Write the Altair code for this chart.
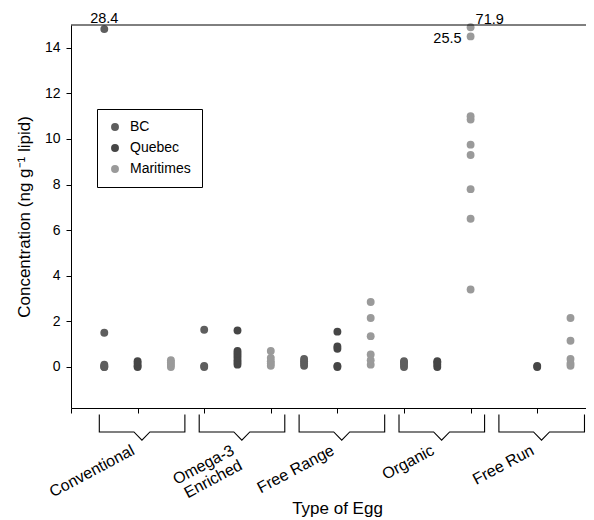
import altair as alt
import pandas as pd

# ---- data ----
groups = ["Conventional", "Omega-3\nEnriched", "Free Range", "Organic", "Free Run"]
regions = ["BC", "Quebec", "Maritimes"]
colors = ["#5e5e5e", "#464646", "#9a9a9a"]

bc_conventional = [0.0, 0.0, 0.05, 0.1, 1.5]
bc_omega = [0.0, 0.05, 1.63]
bc_free_range = [0.05, 0.15, 0.25, 0.35]
bc_organic = [0.0, 0.1, 0.2, 0.25]
bc_free_run = []

qc_conventional = [0.0, 0.05, 0.15, 0.25]
qc_omega = [0.1, 0.2, 0.3, 0.4, 0.5, 0.6, 0.7, 1.6]
qc_free_range = [0.0, 0.05, 0.8, 0.9, 1.55]
qc_organic = [0.0, 0.1, 0.2, 0.25]
qc_free_run = [0.0, 0.05]

mar_conventional = [0.0, 0.1, 0.2, 0.3]
mar_omega = [0.05, 0.15, 0.25, 0.4, 0.7]
mar_free_range = [0.1, 0.3, 0.55, 1.35, 2.15, 2.85]
mar_organic = [3.4, 6.5, 7.8, 9.3, 9.75, 10.85, 11.0]
mar_free_run = [0.05, 0.15, 0.35, 1.15, 2.15]

# off-scale values: drawn at the top of the axis, labelled with true value
off_group = ["Conventional", "Organic", "Organic"]
off_region = ["BC", "Maritimes", "Maritimes"]
off_drawn_at = [14.82, 14.9, 14.5]
off_label = ["28.4", "71.9", "25.5"]

y_ticks = [0, 2, 4, 6, 8, 10, 12, 14]

series = {
    "BC": [bc_conventional, bc_omega, bc_free_range, bc_organic, bc_free_run],
    "Quebec": [qc_conventional, qc_omega, qc_free_range, qc_organic, qc_free_run],
    "Maritimes": [mar_conventional, mar_omega, mar_free_range, mar_organic, mar_free_run],
}

rows = []
for r, reg in enumerate(regions):
    for g, grp in enumerate(groups):
        for v in series[reg][g]:
            rows.append({"region": reg, "group": grp, "slot": g * 3 + r + 1, "value": v, "label": ""})
for grp, reg, v, lab in zip(off_group, off_region, off_drawn_at, off_label):
    g = groups.index(grp)
    r = regions.index(reg)
    rows.append({"region": reg, "group": grp, "slot": g * 3 + r + 1, "value": v, "label": lab})
df = pd.DataFrame(rows)

# bracket decoration under the axis (built from group index)
Y_TOP, Y_MID, Y_TIP = -2.09, -2.85, -3.21
b_rows = []
lab_rows = []
for g, grp in enumerate(groups):
    left = g * 3 + 0.85
    right = left + 2.57
    vc = left + 1.28
    pts = [(left, Y_TOP), (left, Y_MID), (vc - 0.24, Y_MID), (vc, Y_TIP),
           (vc + 0.24, Y_MID), (right, Y_MID), (right, Y_TOP)]
    for i, (xx, yy) in enumerate(pts):
        b_rows.append({"group": grp, "i": i, "bx": xx, "by": yy})
    lab_rows.append({"group": grp, "bx": vc, "by": Y_TIP})
bdf = pd.DataFrame(b_rows)
ldf = pd.DataFrame(lab_rows)

W, H = 515, 383
XMAX = W / 33.3

xscale = alt.Scale(domain=[0, XMAX], nice=False, zero=False)
yscale = alt.Scale(domain=[-1.8, 15], nice=False, zero=False)

x_enc = alt.X(
    "slot:Q", scale=xscale,
    axis=alt.Axis(values=list(range(16)), labels=False, grid=False, tickSize=5,
                  tickColor="black", domainColor="black", title="Type of Egg",
                  titleFontSize=17, titleFontWeight="normal", titleColor="black",
                  titleX=266, titleY=100, titleBaseline="middle", titleAlign="center"),
)
y_enc = alt.Y(
    "value:Q", scale=yscale,
    axis=alt.Axis(values=y_ticks, grid=False, tickSize=5, tickColor="black",
                  domainColor="black", labelFontSize=14, labelColor="black", labelPadding=6,
                  title="Concentration (ng g\u207b\u00b9 lipid)", titleFontSize=17,
                  titleFontWeight="normal", titleColor="black", titleAngle=270,
                  titleX=-47, titleBaseline="middle", titleAlign="center"),
)

points = alt.Chart(df).mark_circle(size=62, opacity=1).encode(
    x=x_enc,
    y=y_enc,
    color=alt.Color(
        "region:N",
        scale=alt.Scale(domain=regions, range=colors),
        legend=alt.Legend(orient="none", legendX=26, legendY=84, title=None,
                          strokeColor="black", fillColor="white", padding=11,
                          labelFontSize=14, labelColor="black", symbolSize=62,
                          symbolType="circle", symbolStrokeWidth=0, labelOffset=8,
                          rowPadding=7, cornerRadius=0),
    ),
)

top_line = alt.Chart(pd.DataFrame({"value": [15]})).mark_rule(color="black", strokeWidth=1).encode(
    y=alt.Y("value:Q", scale=yscale), x=alt.value(0), x2=alt.value(W)
)

brackets = alt.Chart(bdf).mark_line(color="black", strokeWidth=1.1, clip=False).encode(
    x=alt.X("bx:Q", scale=xscale),
    y=alt.Y("by:Q", scale=yscale),
    detail="group:N",
    order="i:Q",
)

cat_labels = alt.Chart(ldf).mark_text(
    align="right", baseline="top", angle=332, fontSize=16, color="black",
    dx=-12, dy=-4, clip=False, lineBreak="\n", lineHeight=17,
).encode(
    x=alt.X("bx:Q", scale=xscale),
    y=alt.Y("by:Q", scale=yscale),
    text="group:N",
)

ann_style = {
    "28.4": dict(align="center", baseline="alphabetic", dx=0, dy=-6),
    "71.9": dict(align="left", baseline="alphabetic", dx=5, dy=-3),
    "25.5": dict(align="right", baseline="middle", dx=-9, dy=3),
}
ann_layers = []
for lab in off_label:
    ann_layers.append(
        alt.Chart(df).transform_filter(alt.datum.label == lab).mark_text(
            fontSize=14.5, color="black", clip=False, **ann_style[lab]
        ).encode(
            x=alt.X("slot:Q", scale=xscale),
            y=alt.Y("value:Q", scale=yscale),
            text="label:N",
        )
    )

chart = alt.layer(points, top_line, brackets, cat_labels, *ann_layers).properties(
    width=W, height=H,
    autosize=alt.AutoSizeParams(type="none"),
    padding={"left": 63, "top": 17, "right": 0, "bottom": 112},
).configure(font="Liberation Sans").configure_view(stroke=None)

chart.save("out.html", embed_options={"renderer": "svg", "actions": False})
